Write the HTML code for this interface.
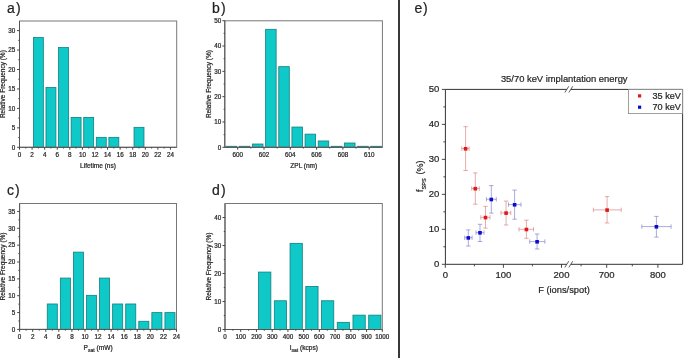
<!DOCTYPE html><html><head><meta charset="utf-8"><style>html,body{margin:0;padding:0;background:#fff;width:685px;height:358px;overflow:hidden}svg{will-change:transform;filter:blur(0.3px)}text{stroke:#262626;stroke-width:0.22px}</style></head><body><svg width="685" height="358" viewBox="0 0 685 358" style="display:block" font-family='"Liberation Sans", sans-serif' fill="#262626">
<rect width="685" height="358" fill="#fff"/>
<rect x="33.4" y="37.56" width="9.94" height="109.74" fill="#0ec9c7" stroke="#127f7f" stroke-width="0.8"/>
<rect x="45.98" y="87.47" width="9.94" height="59.83" fill="#0ec9c7" stroke="#127f7f" stroke-width="0.8"/>
<rect x="58.56" y="47.56" width="9.94" height="99.74" fill="#0ec9c7" stroke="#127f7f" stroke-width="0.8"/>
<rect x="71.14" y="117.39" width="9.94" height="29.91" fill="#0ec9c7" stroke="#127f7f" stroke-width="0.8"/>
<rect x="83.72" y="117.39" width="9.94" height="29.91" fill="#0ec9c7" stroke="#127f7f" stroke-width="0.8"/>
<rect x="96.3" y="137.34" width="9.94" height="9.96" fill="#0ec9c7" stroke="#127f7f" stroke-width="0.8"/>
<rect x="108.88" y="137.34" width="9.94" height="9.96" fill="#0ec9c7" stroke="#127f7f" stroke-width="0.8"/>
<rect x="134.04" y="127.34" width="9.94" height="19.96" fill="#0ec9c7" stroke="#127f7f" stroke-width="0.8"/>
<rect x="19.5" y="21" width="157.2" height="126.3" fill="none" stroke="#777" stroke-width="1"/>
<path d="M19.5 21V147.3H176.7" fill="none" stroke="#555" stroke-width="1"/>
<path d="M19.5 147.3v2.4M32.08 147.3v2.4M44.66 147.3v2.4M57.24 147.3v2.4M69.82 147.3v2.4M82.4 147.3v2.4M94.98 147.3v2.4M107.56 147.3v2.4M120.14 147.3v2.4M132.72 147.3v2.4M145.3 147.3v2.4M157.88 147.3v2.4M170.46 147.3v2.4M25.79 147.3v1.2M38.37 147.3v1.2M50.95 147.3v1.2M63.53 147.3v1.2M76.11 147.3v1.2M88.69 147.3v1.2M101.27 147.3v1.2M113.85 147.3v1.2M126.43 147.3v1.2M139.01 147.3v1.2M151.59 147.3v1.2M164.17 147.3v1.2M19.5 147.3h-2.4M19.5 127.85h-2.4M19.5 108.4h-2.4M19.5 88.95h-2.4M19.5 69.5h-2.4M19.5 50.05h-2.4M19.5 30.6h-2.4M19.5 137.58h-1.2M19.5 118.13h-1.2M19.5 98.68h-1.2M19.5 79.23h-1.2M19.5 59.78h-1.2M19.5 40.33h-1.2" stroke="#444" stroke-width="1" fill="none"/>
<text x="19.5" y="156.8" text-anchor="middle" font-size="6.3">0</text>
<text x="32.08" y="156.8" text-anchor="middle" font-size="6.3">2</text>
<text x="44.66" y="156.8" text-anchor="middle" font-size="6.3">4</text>
<text x="57.24" y="156.8" text-anchor="middle" font-size="6.3">6</text>
<text x="69.82" y="156.8" text-anchor="middle" font-size="6.3">8</text>
<text x="82.4" y="156.8" text-anchor="middle" font-size="6.3">10</text>
<text x="94.98" y="156.8" text-anchor="middle" font-size="6.3">12</text>
<text x="107.56" y="156.8" text-anchor="middle" font-size="6.3">14</text>
<text x="120.14" y="156.8" text-anchor="middle" font-size="6.3">16</text>
<text x="132.72" y="156.8" text-anchor="middle" font-size="6.3">18</text>
<text x="145.3" y="156.8" text-anchor="middle" font-size="6.3">20</text>
<text x="157.88" y="156.8" text-anchor="middle" font-size="6.3">22</text>
<text x="170.46" y="156.8" text-anchor="middle" font-size="6.3">24</text>
<text x="15.2" y="149.51" text-anchor="end" font-size="6.3">0</text>
<text x="15.2" y="130.06" text-anchor="end" font-size="6.3">5</text>
<text x="15.2" y="110.61" text-anchor="end" font-size="6.3">10</text>
<text x="15.2" y="91.16" text-anchor="end" font-size="6.3">15</text>
<text x="15.2" y="71.71" text-anchor="end" font-size="6.3">20</text>
<text x="15.2" y="52.26" text-anchor="end" font-size="6.3">25</text>
<text x="15.2" y="32.81" text-anchor="end" font-size="6.3">30</text>
<text x="98" y="167.8" text-anchor="middle" font-size="6.5">Lifetime (ns)</text>
<text transform="translate(5.3 84.15) rotate(-90)" text-anchor="middle" font-size="6.5">Relative Frequency (%)</text>
<text x="7" y="12.9" font-size="14" fill="#222">a<tspan dx="1.1">)</tspan></text>
<rect x="226.17" y="146.29" width="10.52" height="1.01" fill="#0ec9c7" stroke="#127f7f" stroke-width="0.8"/>
<rect x="239.31" y="146.29" width="10.52" height="1.01" fill="#0ec9c7" stroke="#127f7f" stroke-width="0.8"/>
<rect x="252.47" y="144.01" width="10.52" height="3.29" fill="#0ec9c7" stroke="#127f7f" stroke-width="0.8"/>
<rect x="265.62" y="29.31" width="10.52" height="117.99" fill="#0ec9c7" stroke="#127f7f" stroke-width="0.8"/>
<rect x="278.77" y="66.66" width="10.52" height="80.64" fill="#0ec9c7" stroke="#127f7f" stroke-width="0.8"/>
<rect x="291.92" y="127.04" width="10.52" height="20.26" fill="#0ec9c7" stroke="#127f7f" stroke-width="0.8"/>
<rect x="305.06" y="134.13" width="10.52" height="13.17" fill="#0ec9c7" stroke="#127f7f" stroke-width="0.8"/>
<rect x="318.22" y="140.97" width="10.52" height="6.33" fill="#0ec9c7" stroke="#127f7f" stroke-width="0.8"/>
<rect x="331.37" y="146.29" width="10.52" height="1.01" fill="#0ec9c7" stroke="#127f7f" stroke-width="0.8"/>
<rect x="344.52" y="143" width="10.52" height="4.3" fill="#0ec9c7" stroke="#127f7f" stroke-width="0.8"/>
<rect x="357.67" y="146.29" width="10.52" height="1.01" fill="#0ec9c7" stroke="#127f7f" stroke-width="0.8"/>
<rect x="370.81" y="146.29" width="10.52" height="1.01" fill="#0ec9c7" stroke="#127f7f" stroke-width="0.8"/>
<rect x="224.8" y="20.8" width="157.6" height="126.5" fill="none" stroke="#777" stroke-width="1"/>
<path d="M224.8 20.8V147.3H382.4" fill="none" stroke="#555" stroke-width="1"/>
<path d="M237.7 147.3v2.4M264 147.3v2.4M290.3 147.3v2.4M316.6 147.3v2.4M342.9 147.3v2.4M369.2 147.3v2.4M250.85 147.3v1.2M277.15 147.3v1.2M303.45 147.3v1.2M329.75 147.3v1.2M356.05 147.3v1.2M224.8 147.3h-2.4M224.8 121.98h-2.4M224.8 96.66h-2.4M224.8 71.34h-2.4M224.8 46.02h-2.4M224.8 20.7h-2.4M224.8 134.64h-1.2M224.8 109.32h-1.2M224.8 84h-1.2M224.8 58.68h-1.2M224.8 33.36h-1.2" stroke="#444" stroke-width="1" fill="none"/>
<text x="237.7" y="156.6" text-anchor="middle" font-size="6.3">600</text>
<text x="264" y="156.6" text-anchor="middle" font-size="6.3">602</text>
<text x="290.3" y="156.6" text-anchor="middle" font-size="6.3">604</text>
<text x="316.6" y="156.6" text-anchor="middle" font-size="6.3">606</text>
<text x="342.9" y="156.6" text-anchor="middle" font-size="6.3">608</text>
<text x="369.2" y="156.6" text-anchor="middle" font-size="6.3">610</text>
<text x="221.3" y="149.51" text-anchor="end" font-size="6.3">0</text>
<text x="221.3" y="124.19" text-anchor="end" font-size="6.3">10</text>
<text x="221.3" y="98.87" text-anchor="end" font-size="6.3">20</text>
<text x="221.3" y="73.55" text-anchor="end" font-size="6.3">30</text>
<text x="221.3" y="48.23" text-anchor="end" font-size="6.3">40</text>
<text x="221.3" y="22.91" text-anchor="end" font-size="6.3">50</text>
<text x="303.8" y="167.9" text-anchor="middle" font-size="6.5">ZPL (nm)</text>
<text transform="translate(210.8 84.05) rotate(-90)" text-anchor="middle" font-size="6.5">Relative Frequency (%)</text>
<text x="212.1" y="12.9" font-size="14" fill="#222">b<tspan dx="1.1">)</tspan></text>
<rect x="47.25" y="303.98" width="10.07" height="25.42" fill="#0ec9c7" stroke="#127f7f" stroke-width="0.8"/>
<rect x="60.33" y="278.07" width="10.07" height="51.33" fill="#0ec9c7" stroke="#127f7f" stroke-width="0.8"/>
<rect x="73.4" y="252.12" width="10.07" height="77.28" fill="#0ec9c7" stroke="#127f7f" stroke-width="0.8"/>
<rect x="86.48" y="295.32" width="10.07" height="34.08" fill="#0ec9c7" stroke="#127f7f" stroke-width="0.8"/>
<rect x="99.55" y="278.07" width="10.07" height="51.33" fill="#0ec9c7" stroke="#127f7f" stroke-width="0.8"/>
<rect x="112.63" y="303.98" width="10.07" height="25.42" fill="#0ec9c7" stroke="#127f7f" stroke-width="0.8"/>
<rect x="125.7" y="303.98" width="10.07" height="25.42" fill="#0ec9c7" stroke="#127f7f" stroke-width="0.8"/>
<rect x="138.78" y="321.27" width="10.07" height="8.13" fill="#0ec9c7" stroke="#127f7f" stroke-width="0.8"/>
<rect x="151.85" y="312.61" width="10.07" height="16.79" fill="#0ec9c7" stroke="#127f7f" stroke-width="0.8"/>
<rect x="164.93" y="312.61" width="10.07" height="16.79" fill="#0ec9c7" stroke="#127f7f" stroke-width="0.8"/>
<rect x="19.6" y="203.5" width="156.9" height="125.9" fill="none" stroke="#777" stroke-width="1"/>
<path d="M19.6 203.5V329.4H176.5" fill="none" stroke="#555" stroke-width="1"/>
<path d="M19.6 329.4v2.4M32.67 329.4v2.4M45.75 329.4v2.4M58.82 329.4v2.4M71.9 329.4v2.4M84.97 329.4v2.4M98.05 329.4v2.4M111.12 329.4v2.4M124.2 329.4v2.4M137.28 329.4v2.4M150.35 329.4v2.4M163.42 329.4v2.4M176.5 329.4v2.4M26.14 329.4v1.2M39.21 329.4v1.2M52.29 329.4v1.2M65.36 329.4v1.2M78.44 329.4v1.2M91.51 329.4v1.2M104.59 329.4v1.2M117.66 329.4v1.2M130.74 329.4v1.2M143.81 329.4v1.2M156.89 329.4v1.2M169.96 329.4v1.2M19.6 329.4h-2.4M19.6 312.55h-2.4M19.6 295.7h-2.4M19.6 278.85h-2.4M19.6 262h-2.4M19.6 245.15h-2.4M19.6 228.3h-2.4M19.6 211.45h-2.4M19.6 320.97h-1.2M19.6 304.12h-1.2M19.6 287.27h-1.2M19.6 270.42h-1.2M19.6 253.57h-1.2M19.6 236.72h-1.2M19.6 219.87h-1.2" stroke="#444" stroke-width="1" fill="none"/>
<text x="19.6" y="338.9" text-anchor="middle" font-size="6.3">0</text>
<text x="32.67" y="338.9" text-anchor="middle" font-size="6.3">2</text>
<text x="45.75" y="338.9" text-anchor="middle" font-size="6.3">4</text>
<text x="58.82" y="338.9" text-anchor="middle" font-size="6.3">6</text>
<text x="71.9" y="338.9" text-anchor="middle" font-size="6.3">8</text>
<text x="84.97" y="338.9" text-anchor="middle" font-size="6.3">10</text>
<text x="98.05" y="338.9" text-anchor="middle" font-size="6.3">12</text>
<text x="111.12" y="338.9" text-anchor="middle" font-size="6.3">14</text>
<text x="124.2" y="338.9" text-anchor="middle" font-size="6.3">16</text>
<text x="137.28" y="338.9" text-anchor="middle" font-size="6.3">18</text>
<text x="150.35" y="338.9" text-anchor="middle" font-size="6.3">20</text>
<text x="163.42" y="338.9" text-anchor="middle" font-size="6.3">22</text>
<text x="176.5" y="338.9" text-anchor="middle" font-size="6.3">24</text>
<text x="15.2" y="331.6" text-anchor="end" font-size="6.3">0</text>
<text x="15.2" y="314.75" text-anchor="end" font-size="6.3">5</text>
<text x="15.2" y="297.9" text-anchor="end" font-size="6.3">10</text>
<text x="15.2" y="281.05" text-anchor="end" font-size="6.3">15</text>
<text x="15.2" y="264.2" text-anchor="end" font-size="6.3">20</text>
<text x="15.2" y="247.35" text-anchor="end" font-size="6.3">25</text>
<text x="15.2" y="230.5" text-anchor="end" font-size="6.3">30</text>
<text x="15.2" y="213.66" text-anchor="end" font-size="6.3">35</text>
<text x="83.6" y="349.8" font-size="6.6">P<tspan font-size="5" dy="1.9">sat</tspan><tspan dy="-1.9"> (mW)</tspan></text>
<text transform="translate(5.3 266.45) rotate(-90)" text-anchor="middle" font-size="6.5">Relative Frequency (%)</text>
<text x="7" y="195.4" font-size="14" fill="#222">c<tspan dx="1.1">)</tspan></text>
<rect x="258.59" y="272.07" width="12.27" height="57.43" fill="#0ec9c7" stroke="#127f7f" stroke-width="0.8"/>
<rect x="274.32" y="300.77" width="12.27" height="28.73" fill="#0ec9c7" stroke="#127f7f" stroke-width="0.8"/>
<rect x="290.05" y="243.34" width="12.27" height="86.16" fill="#0ec9c7" stroke="#127f7f" stroke-width="0.8"/>
<rect x="305.78" y="286.44" width="12.27" height="43.06" fill="#0ec9c7" stroke="#127f7f" stroke-width="0.8"/>
<rect x="321.51" y="300.77" width="12.27" height="28.73" fill="#0ec9c7" stroke="#127f7f" stroke-width="0.8"/>
<rect x="337.24" y="322.33" width="12.27" height="7.17" fill="#0ec9c7" stroke="#127f7f" stroke-width="0.8"/>
<rect x="352.97" y="315.14" width="12.27" height="14.36" fill="#0ec9c7" stroke="#127f7f" stroke-width="0.8"/>
<rect x="368.7" y="315.14" width="12.27" height="14.36" fill="#0ec9c7" stroke="#127f7f" stroke-width="0.8"/>
<rect x="225" y="203.5" width="157.3" height="126" fill="none" stroke="#777" stroke-width="1"/>
<path d="M225 203.5V329.5H382.3" fill="none" stroke="#555" stroke-width="1"/>
<path d="M225 329.5v2.4M240.73 329.5v2.4M256.46 329.5v2.4M272.19 329.5v2.4M287.92 329.5v2.4M303.65 329.5v2.4M319.38 329.5v2.4M335.11 329.5v2.4M350.84 329.5v2.4M366.57 329.5v2.4M382.3 329.5v2.4M232.87 329.5v1.2M248.59 329.5v1.2M264.32 329.5v1.2M280.06 329.5v1.2M295.78 329.5v1.2M311.51 329.5v1.2M327.25 329.5v1.2M342.98 329.5v1.2M358.7 329.5v1.2M374.44 329.5v1.2M225 329.5h-2.4M225 301.5h-2.4M225 273.5h-2.4M225 245.5h-2.4M225 217.5h-2.4M225 315.5h-1.2M225 287.5h-1.2M225 259.5h-1.2M225 231.5h-1.2" stroke="#444" stroke-width="1" fill="none"/>
<text x="225" y="338.9" text-anchor="middle" font-size="6.3">0</text>
<text x="240.73" y="338.9" text-anchor="middle" font-size="6.3">100</text>
<text x="256.46" y="338.9" text-anchor="middle" font-size="6.3">200</text>
<text x="272.19" y="338.9" text-anchor="middle" font-size="6.3">300</text>
<text x="287.92" y="338.9" text-anchor="middle" font-size="6.3">400</text>
<text x="303.65" y="338.9" text-anchor="middle" font-size="6.3">500</text>
<text x="319.38" y="338.9" text-anchor="middle" font-size="6.3">600</text>
<text x="335.11" y="338.9" text-anchor="middle" font-size="6.3">700</text>
<text x="350.84" y="338.9" text-anchor="middle" font-size="6.3">800</text>
<text x="366.57" y="338.9" text-anchor="middle" font-size="6.3">900</text>
<text x="382.3" y="338.9" text-anchor="middle" font-size="6.3">1000</text>
<text x="221.3" y="331.7" text-anchor="end" font-size="6.3">0</text>
<text x="221.3" y="303.7" text-anchor="end" font-size="6.3">10</text>
<text x="221.3" y="275.7" text-anchor="end" font-size="6.3">20</text>
<text x="221.3" y="247.71" text-anchor="end" font-size="6.3">30</text>
<text x="221.3" y="219.71" text-anchor="end" font-size="6.3">40</text>
<text x="289.7" y="349.8" font-size="6.6">I<tspan font-size="5" dy="1.9">sat</tspan><tspan dy="-1.9"> (kcps)</tspan></text>
<text transform="translate(210.8 266.5) rotate(-90)" text-anchor="middle" font-size="6.5">Relative Frequency (%)</text>
<text x="212.1" y="195.4" font-size="14" fill="#222">d<tspan dx="1.1">)</tspan></text>
<rect x="398" y="0" width="2" height="358" fill="#383838"/>
<text x="414.5" y="12.7" font-size="14" fill="#222">e<tspan dx="0.7">)</tspan></text>
<text x="500.9" y="81.8" font-size="9.38">35/70 keV implantation energy</text>
<path d="M465.6 126.7V170.5M463.4 126.7h4.4M463.4 170.5h4.4M461.8 148.6H469.1M461.8 146.4v4.4M469.1 146.4v4.4M475.3 172.9V204.2M473.1 172.9h4.4M473.1 204.2h4.4M471.7 188.5H479.3M471.7 186.3v4.4M479.3 186.3v4.4M485.5 206.4V228.1M483.3 206.4h4.4M483.3 228.1h4.4M480.8 217.4H490M480.8 215.2v4.4M490 215.2v4.4M506.1 201.1V225M503.9 201.1h4.4M503.9 225h4.4M501 212.9H510.8M501 210.7v4.4M510.8 210.7v4.4M526.4 220.2V238.3M524.2 220.2h4.4M524.2 238.3h4.4M519 229.3H533.5M519 227.1v4.4M533.5 227.1v4.4M607.1 196.6V223M604.9 196.6h4.4M604.9 223h4.4M593.4 209.9H621.2M593.4 207.7v4.4M621.2 207.7v4.4" stroke="#d87070" stroke-width="0.6" fill="none"/>
<rect x="463.8" y="147" width="3.6" height="3.6" fill="#e01818"/>
<rect x="473.5" y="186.9" width="3.6" height="3.6" fill="#e01818"/>
<rect x="483.7" y="215.8" width="3.6" height="3.6" fill="#e01818"/>
<rect x="504.3" y="211.3" width="3.6" height="3.6" fill="#e01818"/>
<rect x="524.6" y="227.7" width="3.6" height="3.6" fill="#e01818"/>
<rect x="605.3" y="208.3" width="3.6" height="3.6" fill="#e01818"/>
<path d="M468.3 229.9V246M466.1 229.9h4.4M466.1 246h4.4M464.7 237.7H472.1M464.7 235.5v4.4M472.1 235.5v4.4M480 224.3V241.5M477.8 224.3h4.4M477.8 241.5h4.4M476 232.6H484M476 230.4v4.4M484 230.4v4.4M491.3 185.6V213.1M489.1 185.6h4.4M489.1 213.1h4.4M486.4 199.3H496.3M486.4 197.1v4.4M496.3 197.1v4.4M514.6 190.1V219.2M512.4 190.1h4.4M512.4 219.2h4.4M508.5 204.6H521M508.5 202.4v4.4M521 202.4v4.4M537.1 234V249M534.9 234h4.4M534.9 249h4.4M529.7 241.6H544.9M529.7 239.4v4.4M544.9 239.4v4.4M656.4 216.4V237.1M654.2 216.4h4.4M654.2 237.1h4.4M641.8 226.6H671.1M641.8 224.4v4.4M671.1 224.4v4.4" stroke="#7070c8" stroke-width="0.6" fill="none"/>
<rect x="466.5" y="236.1" width="3.6" height="3.6" fill="#0c0cd0"/>
<rect x="478.2" y="231" width="3.6" height="3.6" fill="#0c0cd0"/>
<rect x="489.5" y="197.7" width="3.6" height="3.6" fill="#0c0cd0"/>
<rect x="512.8" y="203" width="3.6" height="3.6" fill="#0c0cd0"/>
<rect x="535.3" y="240" width="3.6" height="3.6" fill="#0c0cd0"/>
<rect x="654.6" y="225" width="3.6" height="3.6" fill="#0c0cd0"/>
<path d="M445.4 89.4V264.3H566.8M570.8 264.3H682.6V89.4H570.8M566.8 89.4H445.4" fill="none" stroke="#333" stroke-width="1"/>
<path d="M564.8499999999999 92.5l3.9 -6.2M568.8499999999999 92.5l3.9 -6.2" stroke="#333" stroke-width="0.8" fill="none"/>
<path d="M564.8499999999999 267.40000000000003l3.9 -6.2M568.8499999999999 267.40000000000003l3.9 -6.2" stroke="#333" stroke-width="0.8" fill="none"/>
<rect x="628.6" y="89.4" width="54" height="24.2" fill="#fff" stroke="#888" stroke-width="0.8"/>
<rect x="638" y="94.3" width="3.2" height="3.2" fill="#e01818"/>
<rect x="638" y="105.6" width="3.2" height="3.2" fill="#0c0cd0"/>
<text x="652.5" y="99" font-size="9.1">35 keV</text>
<text x="652.5" y="110.3" font-size="9.1">70 keV</text>
<path d="M445.3 264.3v3.5M503.4 264.3v3.5M561.5 264.3v3.5M606.7 264.3v3.5M657.9 264.3v3.5M474.4 264.3v2M532.4 264.3v2M581.1 264.3v2M632.3 264.3v2M445.4 264.3h-3.5M445.4 229.32h-3.5M445.4 194.34h-3.5M445.4 159.36h-3.5M445.4 124.38h-3.5M445.4 89.4h-3.5M445.4 246.81h-2M445.4 211.83h-2M445.4 176.85h-2M445.4 141.87h-2M445.4 106.89h-2" stroke="#333" stroke-width="0.9" fill="none"/>
<text x="445.3" y="277.7" text-anchor="middle" font-size="9.5">0</text>
<text x="503.4" y="277.7" text-anchor="middle" font-size="9.5">100</text>
<text x="561.5" y="277.7" text-anchor="middle" font-size="9.5">200</text>
<text x="606.7" y="277.7" text-anchor="middle" font-size="9.5">700</text>
<text x="657.9" y="277.7" text-anchor="middle" font-size="9.5">800</text>
<text x="439.4" y="266.9" text-anchor="end" font-size="9.5">0</text>
<text x="439.4" y="231.92" text-anchor="end" font-size="9.5">10</text>
<text x="439.4" y="196.94" text-anchor="end" font-size="9.5">20</text>
<text x="439.4" y="161.96" text-anchor="end" font-size="9.5">30</text>
<text x="439.4" y="126.98" text-anchor="end" font-size="9.5">40</text>
<text x="439.4" y="92" text-anchor="end" font-size="9.5">50</text>
<text x="564" y="292.8" text-anchor="middle" font-size="9.3">F (ions/spot)</text>
<text transform="translate(423.2 176.2) rotate(-90)" text-anchor="middle" font-size="9">f<tspan font-size="5.6" dy="3">SPS</tspan><tspan dy="-3" dx="1.4"> (%)</tspan></text>
</svg></body></html>
